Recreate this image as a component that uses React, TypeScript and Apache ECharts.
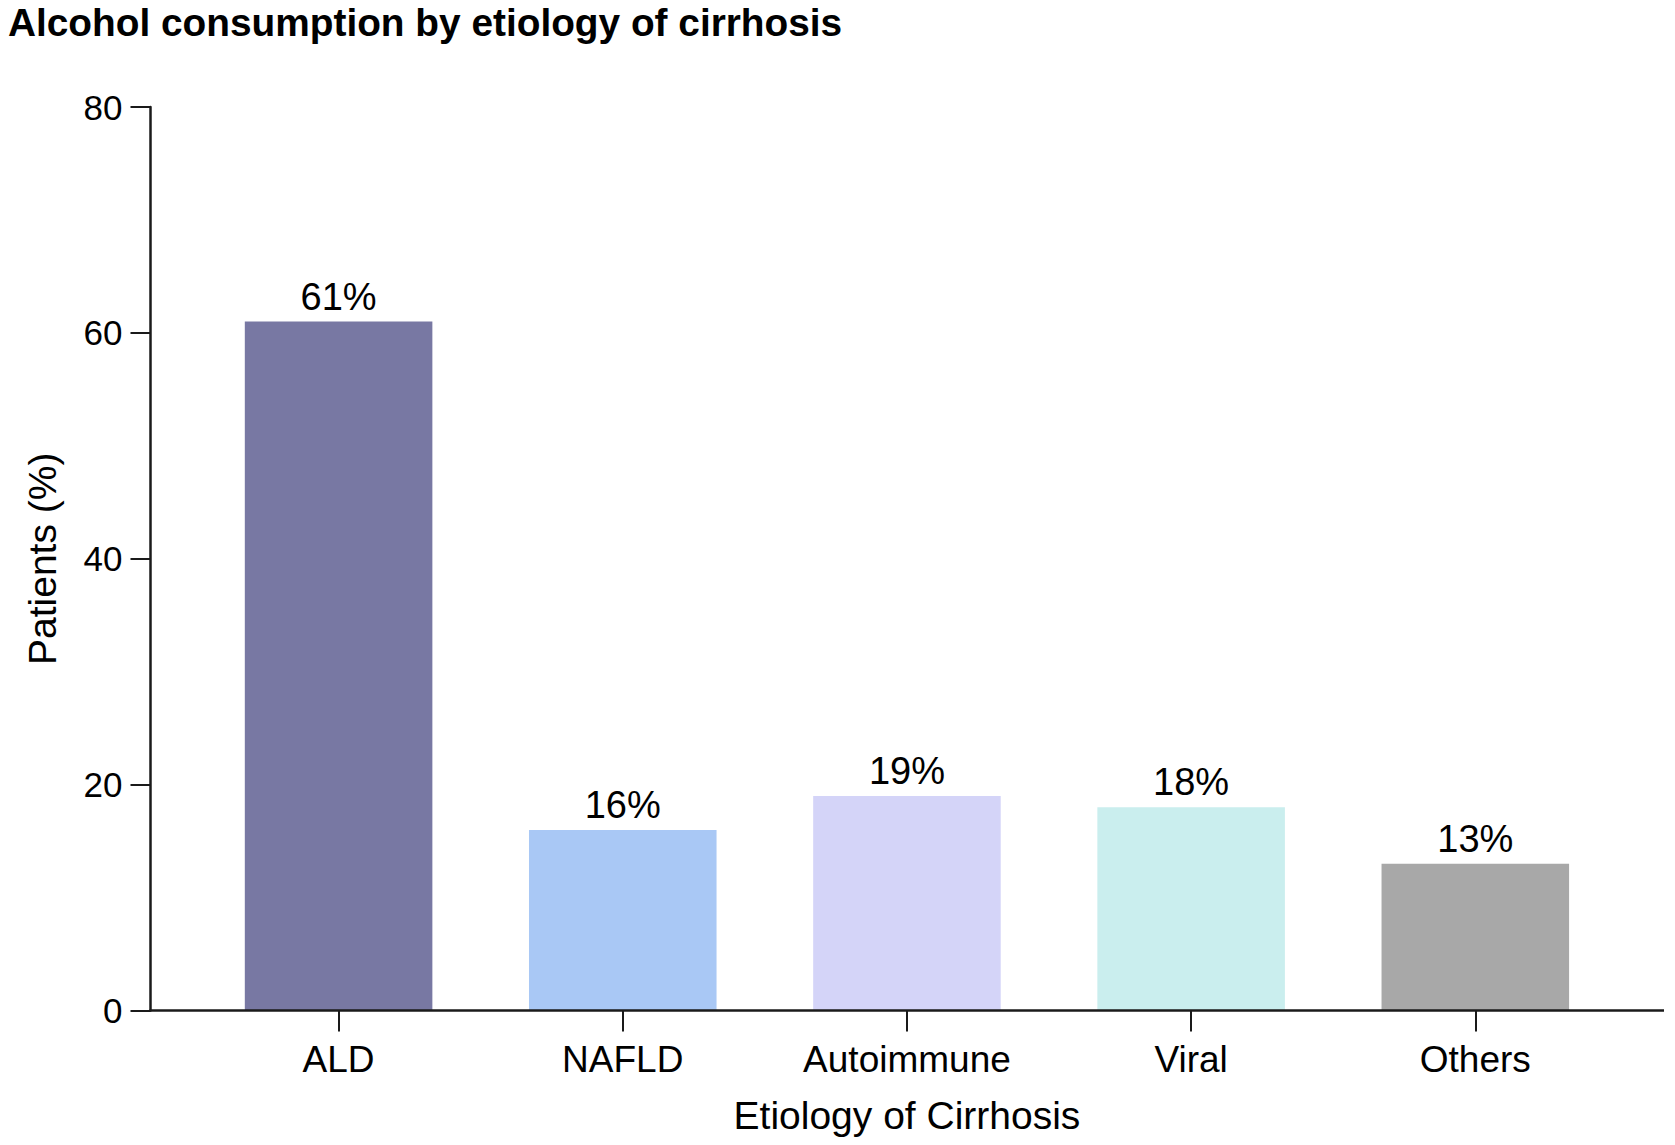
import React, { useEffect, useRef } from "react";
import * as echarts from "echarts";

const TITLE = "Alcohol consumption by etiology of cirrhosis";
const categories = ["ALD", "NAFLD", "Autoimmune", "Viral", "Others"];
const values = [61, 16, 19, 18, 13];
const barColors = ["#7878a3", "#a9c8f5", "#d4d4f8", "#caeeee", "#a8a8a8"];
const yTicks = [0, 20, 40, 60, 80];
const yAxisName = "Patients (%)";
const xAxisName = "Etiology of Cirrhosis";

const W = 1675;
const H = 1145;
const FONT = "'Liberation Sans', Arial, Helvetica, sans-serif";

export default function App() {
  const ref = useRef<HTMLDivElement>(null);
  useEffect(() => {
    if (!ref.current) return;
    const chart = echarts.init(ref.current, undefined, { renderer: "svg" });
    const gridLeft = 196.5;
    const gridRight = 57.6;
    const gridTop = 107;
    const gridBottom = 134.4;
    const yOffset = 46;
    const axisColor = "#1a1a1a";
    const axisY = H - gridBottom;
    chart.setOption({
      animation: false,
      backgroundColor: "#ffffff",
      title: {
        text: TITLE,
        left: 3,
        top: -2,
        textStyle: { fontFamily: FONT, fontWeight: "bold", fontSize: 38.8, color: "#000" },
      },
      grid: { left: gridLeft, right: gridRight, top: gridTop, bottom: gridBottom, containLabel: false },
      xAxis: {
        type: "category",
        data: categories,
        axisLine: { show: false },
        axisTick: { show: true, length: 21, alignWithLabel: true, lineStyle: { color: axisColor, width: 2 } },
        axisLabel: { fontFamily: FONT, fontSize: 37, color: "#000", margin: 30 },
        name: xAxisName,
        nameLocation: "middle",
        nameGap: 85,
        nameTextStyle: { fontFamily: FONT, fontSize: 39, color: "#000" },
      },
      yAxis: {
        type: "value",
        min: 0,
        max: 80,
        interval: 20,
        offset: yOffset,
        axisLine: { show: true, lineStyle: { color: axisColor, width: 2.5 } },
        axisTick: { show: true, length: 20, lineStyle: { color: axisColor, width: 2 } },
        axisLabel: {
          fontFamily: FONT,
          fontSize: 35,
          color: "#000",
          margin: 28,
          formatter: (v: number) => (yTicks.includes(v) ? String(v) : ""),
        },
        splitLine: { show: false },
        name: yAxisName,
        nameLocation: "middle",
        nameGap: 89,
        nameTextStyle: { fontFamily: FONT, fontSize: 39, color: "#000" },
      },
      graphic: [
        {
          type: "line",
          z: 10,
          shape: { x1: gridLeft - yOffset - 1, y1: axisY, x2: 1664, y2: axisY },
          style: { stroke: axisColor, lineWidth: 2.5 },
        },
      ],
      series: [
        {
          type: "bar",
          barWidth: "66%",
          data: values.map((v, i) => ({ value: v, itemStyle: { color: barColors[i] } })),
          label: {
            show: true,
            position: "top",
            distance: 6,
            formatter: "{c}%",
            fontFamily: FONT,
            fontSize: 38,
            color: "#000",
          },
        },
      ],
    });
    return () => chart.dispose();
  }, []);
  return (
    <div
      ref={ref}
      style={{ position: "absolute", left: 0, top: 0, width: W, height: H, background: "#fff" }}
    />
  );
}
